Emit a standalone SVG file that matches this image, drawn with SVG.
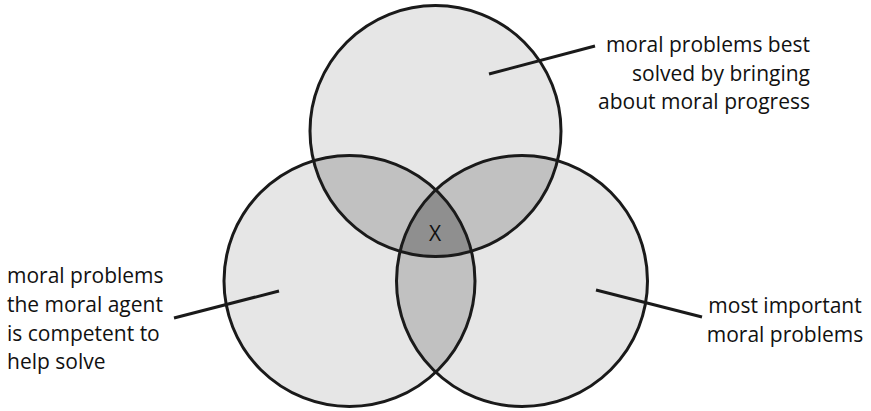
<svg xmlns="http://www.w3.org/2000/svg" width="871" height="411" viewBox="0 0 871 411">
<style>
.ring{fill:#e6e6e6;stroke:none}
.edge{fill:none;stroke:#1a1a1a;stroke-width:3}
.pair{fill:#c1c1c1}
.triple{fill:#8f8f8f}
.lbl{font-family:"Open Sans","Noto Sans",sans-serif;font-size:21px;fill:#111}
.lead{stroke:#1a1a1a;stroke-width:3;fill:none}
</style>
<defs>
<clipPath id="cT"><circle cx="435.5" cy="131" r="125.5"/></clipPath>
<clipPath id="cL"><circle cx="349.5" cy="281" r="125.5"/></clipPath>
<clipPath id="cR"><circle cx="522" cy="281" r="125.5"/></clipPath>
</defs>
<g id="fills">
<circle class="ring" cx="435.5" cy="131" r="125.5"/>
<circle class="ring" cx="349.5" cy="281" r="125.5"/>
<circle class="ring" cx="522" cy="281" r="125.5"/>
<g clip-path="url(#cT)"><circle class="pair" cx="349.5" cy="281" r="125.5"/><circle class="pair" cx="522" cy="281" r="125.5"/></g>
<g clip-path="url(#cL)"><circle class="pair" cx="522" cy="281" r="125.5"/></g>
<g clip-path="url(#cT)"><g clip-path="url(#cL)"><circle class="triple" cx="522" cy="281" r="125.5"/></g></g>
</g>
<g id="node-top"><circle class="edge" cx="435.5" cy="131" r="125.5"/></g>
<g id="node-left"><circle class="edge" cx="349.5" cy="281" r="125.5"/></g>
<g id="node-right"><circle class="edge" cx="522" cy="281" r="125.5"/></g>
<g id="node-center"><text class="lbl" x="435" y="241" text-anchor="middle">X</text></g>
<g id="connectors">
<line class="lead" x1="489" y1="74" x2="595" y2="46"/>
<line class="lead" x1="174" y1="318" x2="279" y2="291"/>
<line class="lead" x1="596" y1="290" x2="702" y2="317"/>
</g>
<g id="label-top">
<text class="lbl" text-anchor="end"><tspan x="810" y="52">moral problems best</tspan><tspan x="810" y="81">solved by bringing</tspan><tspan x="810" y="109">about moral progress</tspan></text>
</g>
<g id="label-left">
<text class="lbl"><tspan x="7" y="283">moral problems</tspan><tspan x="7" y="312">the moral agent</tspan><tspan x="7" y="341">is competent to</tspan><tspan x="7" y="369">help solve</tspan></text>
</g>
<g id="label-right">
<text class="lbl" text-anchor="middle"><tspan x="785" y="313">most important</tspan><tspan x="785" y="342">moral problems</tspan></text>
</g>
</svg>
